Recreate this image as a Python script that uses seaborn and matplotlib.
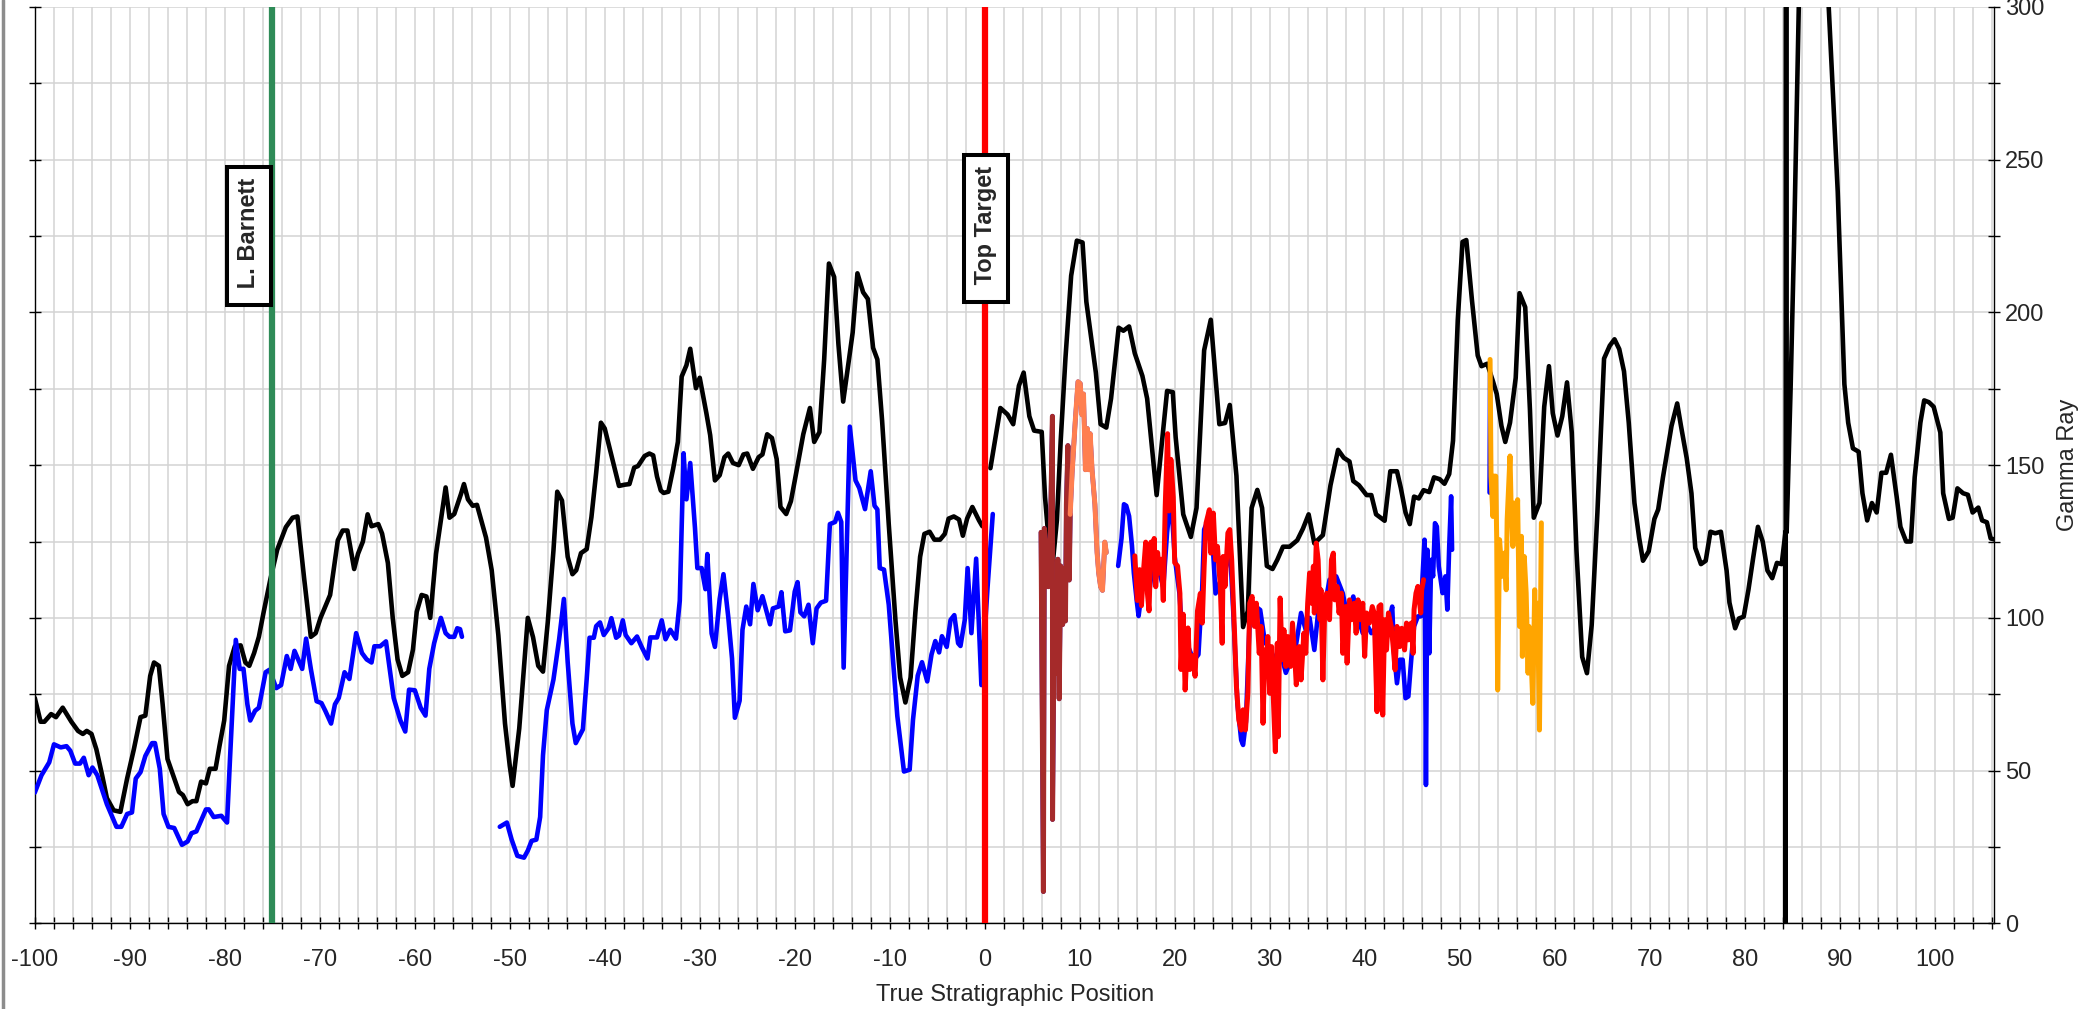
import numpy as np
import pandas as pd
import matplotlib
matplotlib.use("Agg")
import matplotlib.pyplot as plt
from matplotlib.ticker import MultipleLocator
import seaborn as sns

# offset well gamma ray (black), one run above and one below the target top
black_a_pos = [-100, -99.39, -98.99, -98.28, -97.77, -97.06, -96.15, -95.45, -94.94, -94.53,
               -94.03, -93.52, -92.91, -92.41, -91.7, -90.99, -90.28, -89.57, -88.87, -88.36,
               -87.85, -87.45, -86.94, -86.54, -86.03, -85.32, -84.82, -84.41, -83.91, -83.4,
               -82.99, -82.49, -81.98, -81.58, -80.97, -80.56, -80.06, -79.55, -78.94, -78.33,
               -77.83, -77.42, -76.91, -76.41, -75.9, -75.19, -74.48, -73.57, -72.86, -72.35,
               -71.64, -70.94, -70.43, -69.92, -68.91, -68.1, -67.59, -67.09, -66.38, -65.97,
               -65.46, -64.96, -64.55, -63.84, -63.44, -62.83, -62.32, -61.81, -61.31, -60.7,
               -60.19, -59.79, -59.28, -58.77, -58.37, -57.76, -56.75, -56.34, -55.84, -55.13,
               -54.82, -54.4, -53.9, -53.45, -52.5, -51.9, -51.2, -50.5, -50.0, -49.7,
               -49.0, -48.1, -47.55, -47.0, -46.5, -46.0, -45.4, -45.0, -44.5, -43.9,
               -43.4, -43.0, -42.5, -41.9, -41.4, -40.9, -40.4, -40.0, -39.3, -38.5,
               -37.9, -37.4, -36.9, -36.5, -35.8, -35.3, -34.9, -34.5, -34.1, -33.8,
               -33.3, -32.8, -32.3, -31.9, -31.4, -31.0, -30.4, -30.0, -29.3, -28.9,
               -28.4, -27.9, -27.4, -27.0, -26.5, -25.9, -25.4, -25.0, -24.4, -23.8,
               -23.4, -22.9, -22.4, -21.9, -21.5, -20.9, -20.4, -19.8, -19.1, -18.4,
               -17.95, -17.4, -16.9, -16.4, -15.85, -15.4, -14.9, -14.4, -13.9, -13.4,
               -12.8, -12.3, -11.75, -11.3, -10.8, -10.1, -9.4, -8.9, -8.35, -7.8,
               -7.3, -6.8, -6.35, -5.8, -5.3, -4.7, -4.2, -3.8, -3.25, -2.7,
               -2.3, -1.85, -1.3, -0.6, -0.25]
black_a_gr = [73.8, 66, 66, 68.5, 67.5, 70.6, 66, 63, 62, 63,
              62, 57, 48.5, 41, 37, 36.5, 47.4, 57, 67.5, 68,
              81, 85.4, 84.3, 71.7, 53.8, 47.4, 43, 42, 39, 40,
              40, 46.4, 45.8, 50.6, 50.6, 58, 66.4, 84.3, 90.7, 91,
              85.4, 84.3, 88.5, 93.8, 102, 112.8, 122.3, 129.7, 132.8, 133.2,
              112.8, 93.8, 95, 100, 107.5, 125.4, 128.6, 128.6, 116, 121,
              125, 133.9, 130, 130.7, 127.6, 118, 100, 86.4, 81, 82.2,
              89.6, 102, 107.5, 107, 100, 121, 142.7, 132.8, 134, 140.6,
              143.8, 138.8, 136.7, 137, 126.3, 115.6, 94.3, 65.4, 51.6, 45,
              63.8, 100, 93.7, 84.3, 82.4, 98.5, 122, 141.3, 138.4, 120,
              114.3, 115.6, 121.2, 122.5, 133, 147.6, 163.9, 162, 153.2, 143.2,
              143.6, 143.8, 149.2, 149.7, 153, 153.8, 153.2, 146.3, 141.7, 140.9,
              141.3, 148.8, 157.6, 179, 182.7, 188.1, 175.2, 178.6, 167, 159.8,
              145, 146.7, 152.6, 153.8, 150.7, 150, 153.5, 153.8, 148.8, 152.6,
              153.5, 160.1, 158.9, 152, 136.3, 134, 138.2, 148.2, 160.1, 168.7,
              157.6, 160.8, 184.6, 216, 211.6, 189.6, 170.8, 182.1, 193.4, 212.8,
              206.6, 204.4, 188.4, 184.6, 164.5, 130.6, 99.4, 80.5, 72.3, 80.5,
              101.8, 120, 127.5, 128.2, 125.6, 125.6, 127.5, 132.5, 133.2, 132.2,
              126.9, 132.5, 136.3, 131.9, 130]

black_b_pos = [0.6, 1.65, 2.4, 3.0, 3.6, 4.1, 4.7, 5.2, 6.0, 6.35,
               6.8, 7.2, 7.6, 8.0, 8.5, 9.1, 9.7, 10.3, 10.7, 11.7,
               12.2, 12.8, 13.3, 14.1, 14.6, 15.2, 15.8, 16.6, 17.1, 18.1,
               19.2, 19.8, 20.1, 20.9, 21.7, 22.3, 23.1, 23.8, 24.4, 24.7,
               25.3, 25.8, 26.5, 27.2, 27.7, 28.1, 28.7, 29.2, 29.7, 30.3,
               30.8, 31.4, 32.1, 32.9, 33.5, 34.1, 34.7, 35.6, 36.4, 37.2,
               37.8, 38.4, 38.8, 39.4, 40.2, 40.7, 41.2, 42.1, 42.7, 43.4,
               43.8, 44.3, 44.75, 45.2, 45.7, 46.2, 46.8, 47.3, 47.9, 48.4,
               48.9, 49.3, 49.8, 50.3, 50.7, 51.3, 51.9, 52.3, 52.9, 53.5,
               53.9, 54.4, 54.8, 55.3, 55.9, 56.3, 56.9, 57.4, 57.8, 58.4,
               58.9, 59.4, 59.8, 60.3, 60.8, 61.3, 61.8, 62.3, 62.9, 63.4,
               63.9, 64.5, 65.2, 65.8, 66.3, 66.8, 67.3, 67.8, 68.4, 68.9,
               69.3, 69.9, 70.5, 70.9, 71.4, 71.8, 72.3, 72.9, 73.3, 73.9,
               74.4, 74.8, 75.4, 75.9, 76.4, 76.9, 77.5, 78.1, 78.4, 79.0,
               79.4, 79.9, 80.4, 80.9, 81.4, 81.9, 82.4, 82.9, 83.4, 83.9,
               84.3, 84.32, 84.36, 84.42, 84.85, 85.2, 85.7, 86.5, 87.5, 88.3,
               88.85, 89.8, 90.5, 90.9, 91.4, 92.0, 92.4, 92.9, 93.4, 93.9,
               94.4, 94.9, 95.4, 96.0, 96.4, 97.0, 97.5, 97.9, 98.5, 98.9,
               99.4, 99.9, 100.6, 100.9, 101.5, 101.9, 102.4, 103.0, 103.5, 104.0,
               104.6, 105.0, 105.5, 105.9, 106.4, 106.8]
black_b_gr = [149, 168.7, 166.6, 163.4, 176, 180.3, 166, 161.3, 160.9, 139.5,
              123, 119, 132, 158, 185, 212, 223.5, 222.9, 203.5, 180.3,
              163.4, 162.3, 171.8, 195, 194, 195.4, 186.6, 179.2, 171.8, 140.2,
              174.3, 173.9, 159.2, 133.9, 126.5, 136, 187.6, 197.6, 175, 163.4,
              163.8, 169.7, 146.5, 97, 102.3, 136, 141.9, 136, 117, 116,
              119, 123.3, 123.3, 125.4, 129.2, 133.9, 124.4, 127.1, 143.4, 155,
              152.4, 151.2, 144.8, 143.4, 140.2, 140.2, 133.9, 131.8, 148, 148,
              142.6, 134.5, 130.7, 139.7, 139.1, 141.8, 141.2, 146, 145.4, 143.9,
              147.1, 158, 197.5, 223.1, 223.7, 203.8, 185.9, 182.4, 183.2, 177.5,
              173.3, 162.8, 157.6, 163.9, 178.6, 206.3, 201.7, 168, 132.8, 137.6,
              169.1, 182.4, 167, 159.7, 166, 177.1, 160.7, 121.8, 87.2, 81.9,
              97.7, 134.5, 184.9, 189.1, 191.2, 188, 180.7, 163.9, 137.6, 126.1,
              118.7, 121.8, 132.4, 135.5, 146, 153.4, 162.8, 170.2, 162.8, 152.3,
              140.8, 122.9, 117.6, 118.7, 128.2, 127.7, 128.2, 115.5, 105, 96.6,
              99.8, 100.4, 109.2, 119.7, 129.8, 125, 115.5, 113, 118, 117.6,
              128.2, 0, 1000, 128, 176.5, 222.7, 300, 345, 360, 335,
              300, 239.5, 176.5, 163.9, 155.5, 154.4, 140.8, 131.9, 137.6, 134.5,
              147.5, 147.5, 153.4, 139.7, 129.8, 125, 125, 146, 163.9, 171.2,
              170.6, 169.1, 160.7, 140.8, 132.4, 132.8, 142.4, 140.8, 140.3, 134.5,
              136.1, 131.9, 131.3, 126, 125.6, 122.9]

# lateral gamma ray (blue)
blue_a_pos = [-100, -99.29, -98.48, -97.98, -97.27, -96.66, -96.26, -95.75, -95.24, -94.84,
              -94.33, -93.93, -93.42, -92.41, -91.4, -90.89, -90.28, -89.77, -89.37, -88.87,
              -88.36, -87.65, -87.35, -86.84, -86.44, -85.93, -85.32, -84.51, -83.91, -83.5,
              -82.99, -81.98, -81.68, -81.17, -80.36, -79.76, -79.45, -78.84, -78.43, -78.03,
              -77.62, -77.32, -76.81, -76.41, -75.7, -75.3, -74.58, -74.07, -73.47, -73.06,
              -72.66, -71.85, -71.44, -70.94, -70.33, -69.82, -69.42, -68.81, -68.4, -68.0,
              -67.39, -66.88, -66.17, -65.56, -65.06, -64.55, -64.25, -63.64, -63.03, -62.73,
              -62.22, -61.51, -61.0, -60.6, -59.99, -59.38, -58.87, -58.47, -57.96, -57.25,
              -56.75, -56.34, -55.84, -55.53, -55.23, -55.03]
blue_a_gr = [42.8, 48.5, 52.7, 58.6, 57.6, 58, 56.5, 52.3, 52.3, 54.2,
             48.5, 51, 48.5, 39, 31.6, 31.6, 35.8, 36.3, 47.4, 49.5,
             54.8, 59, 59, 50.6, 35.8, 31.6, 31.2, 25.7, 26.8, 29.5,
             30.1, 37.3, 37.3, 34.8, 35.2, 33, 53.8, 92.8, 83.3, 83.3,
             71.7, 66.4, 69.6, 70.6, 82.2, 83, 77, 78, 87.5, 83.3,
             89.2, 83.3, 93.2, 83.3, 72.7, 72.1, 69.6, 65.4, 71.7, 73.8,
             82.2, 80, 95, 88.5, 86.4, 85.4, 90.7, 90.7, 92.3, 85.4,
             73.8, 66.4, 62.8, 76.5, 76.3, 70.6, 68, 83.3, 91.7, 100,
             95, 93.8, 93.8, 96.6, 96.3, 93.8]

blue_b_pos = [-51.05, -50.3, -49.8, -49.2, -48.5, -48.1, -47.7, -47.2, -46.8, -46.5,
              -46.1, -45.4, -44.8, -44.3, -43.9, -43.4, -43.05, -42.3, -41.9, -41.6,
              -41.15, -40.9, -40.5, -40.1, -39.6, -39.3, -38.8, -38.5, -38.1, -37.8,
              -37.2, -36.6, -36.1, -35.5, -35.2, -34.5, -34.0, -33.6, -33.1, -32.5,
              -32.1, -31.7, -31.4, -31.0, -30.5, -30.25, -29.8, -29.4, -29.2, -28.75,
              -28.4, -27.9, -27.5, -27.0, -26.6, -26.3, -25.8, -25.5, -25.1, -24.7,
              -24.35, -23.9, -23.4, -22.6, -22.3, -21.7, -21.4, -21.0, -20.5, -20.0,
              -19.7, -19.4, -19.0, -18.55, -18.1, -17.7, -17.25, -16.7, -16.3, -15.75,
              -15.45, -15.1, -14.85, -14.2, -13.6, -13.2, -12.6, -12.0, -11.6, -11.3,
              -11.05, -10.6, -10.1, -9.2, -8.5, -7.9, -7.55, -7.05, -6.6, -6.05,
              -5.6, -5.2, -4.8, -4.5, -4.0, -3.6, -3.2, -2.8, -2.55, -2.1,
              -1.8, -1.4, -0.9, -0.35, 0.3, 0.85]
blue_b_gr = [31.6, 33, 27.4, 22.1, 21.5, 23.8, 27, 27.4, 34.8, 55,
             69.8, 79.8, 93, 106.2, 85.5, 65.4, 59, 63.5, 80, 93.5,
             93.5, 97.3, 98.5, 94.4, 96.6, 99.9, 93.5, 94.2, 99.2, 94.4,
             91.7, 93.9, 90.4, 86.7, 93.6, 93.6, 99.2, 93, 96.1, 93.2,
             105.6, 153.9, 138.8, 150.7, 129.4, 116.3, 116.3, 109.4, 120.9, 94.9,
             90.5, 106.2, 114.3, 100.4, 86.7, 67.3, 72.9, 96.1, 103.7, 97.9,
             111.1, 102.5, 107.1, 97.9, 103.1, 103.7, 108.4, 95.6, 95.9, 108.6,
             111.7, 101.8, 100.5, 104.3, 91.7, 103.1, 105, 105.6, 130.7, 131.4,
             134.4, 131.4, 83.7, 162.6, 145, 142.5, 135.6, 148, 136.7, 135.5,
             116.3, 115.8, 104.3, 67.9, 49.7, 50.3, 66.6, 81.1, 85.5, 79.2,
             88, 92.4, 88.7, 94, 90.5, 99.3, 100.9, 91.7, 90.8, 99.3,
             116.3, 95, 119.4, 78, 110, 134]

blue_c_pos = [14.05, 14.4, 14.66, 14.9, 15.2, 15.5, 15.7, 16.0, 16.2, 16.5,
              16.9, 17.3, 17.8, 18.3, 18.8, 19.2, 19.6, 20.0, 20.5, 21.0,
              21.5, 22.0, 22.5, 22.9, 23.1, 23.5, 24.0, 24.3, 24.8, 25.3,
              25.8, 26.2, 26.6, 27.0, 27.2, 27.5, 27.9, 28.4, 29.0, 29.5,
              30.0, 30.6, 31.2, 31.7, 32.2, 32.8, 33.3, 33.8, 34.2, 34.7,
              35.3, 35.8, 36.3, 37.0, 37.7, 38.2, 38.8, 39.3, 39.8, 40.2,
              40.7, 41.2, 41.7, 42.1, 42.5, 42.9, 43.1, 43.4, 43.7, 44.0,
              44.3, 44.6, 44.9, 45.2, 45.6, 45.9, 46.0, 46.3, 46.45, 46.6,
              46.8, 47.0, 47.2, 47.4, 47.6, 47.8, 48.0, 48.2, 48.5, 48.7,
              48.9, 49.1, 49.2]
blue_c_gr = [117, 126, 137.2, 136.7, 133.3, 123.7, 114.7, 105.7, 100.6, 108,
             118, 108, 120, 116, 110, 128, 140, 120, 108, 85,
             90, 86, 88, 110, 128.9, 132, 124, 108, 112, 115,
             124, 100, 72, 60, 58.4, 66, 100, 104, 102.6, 92,
             90, 86, 88, 82, 86, 91.7, 101.6, 96, 100, 89.5,
             108, 104, 112.5, 113.6, 108, 100, 107, 100, 95, 98,
             95, 97, 96, 92, 98.3, 103.7, 88.4, 78.6, 86.3, 86.3,
             73.7, 74.3, 86.3, 97.2, 100.5, 100.5, 108.1, 125.6, 45.3, 122.3,
             88.4, 119, 113.6, 131, 129.9, 116.9, 112.5, 108.1, 113.6, 102.7,
             123.4, 139.8, 122.3]

blue_d_pos = [53.15, 53.2]
blue_d_gr = [141, 180]

# highlighted zones drawn over the lateral log
brown_pos = [5.93, 6.18, 6.28, 6.5, 6.7, 6.9, 7.13, 7.14, 7.34, 7.5,
             7.7, 7.84, 8.0, 8.2, 8.4, 8.5, 8.6, 8.76, 8.9, 9.0]
brown_gr = [128, 10.4, 129.3, 121.4, 110.2, 124.8, 166, 34, 111.3, 82,
            119.2, 73.5, 117, 97.8, 111.3, 99, 137.2, 156.4, 112.4, 133.9]

coral_pos = [9.0, 9.2, 9.53, 9.82, 10.06, 10.24, 10.4, 10.6, 10.8, 10.95,
             11.1, 11.3, 11.6, 11.83, 12.0, 12.2, 12.4, 12.64, 12.8]
coral_gr = [133.9, 147.4, 164.3, 177.3, 176.7, 166.5, 173.3, 148.5, 162, 148.5,
            160.3, 148.5, 137.2, 121.4, 114.7, 110.2, 109, 124.8, 121.4]

red_pos = [15.8, 16.07, 16.3, 16.5, 16.7, 16.95, 17.13, 17.3, 17.5, 17.7,
           17.84, 18.0, 18.2, 18.4, 18.6, 18.8, 19.0, 19.25, 19.4, 19.6,
           19.85, 20.0, 20.3, 20.55, 20.66, 20.9, 21.1, 21.4, 21.6, 21.9,
           22.15, 22.4, 22.7, 22.9, 23.1, 23.3, 23.65, 23.8, 24.07, 24.3,
           24.5, 24.8, 25.0, 25.1, 25.3, 25.6, 25.8, 26.0, 26.3, 26.5,
           26.75, 27.0, 27.2, 27.45, 27.7, 27.9, 28.15, 28.4, 28.6, 28.9,
           29.1, 29.3, 29.5, 29.6, 29.8, 30.0, 30.2, 30.3, 30.6, 30.8,
           30.9, 31.1, 31.3, 31.5, 31.7, 31.9, 32.2, 32.4, 32.6, 32.8,
           33.1, 33.3, 33.6, 33.8, 34.0, 34.2, 34.4, 34.6, 34.7, 34.9,
           35.1, 35.3, 35.4, 35.6, 35.8, 36.0, 36.3, 36.5, 36.7, 36.85,
           37.1, 37.3, 37.55, 37.7, 38.0, 38.15, 38.4, 38.6, 38.9, 39.1,
           39.3, 39.6, 39.8, 40.0, 40.2, 40.5, 40.8, 41.0, 41.3, 41.5,
           41.7, 41.9, 42.1, 42.3, 42.5, 42.8, 43.0, 43.2, 43.4, 43.7,
           43.9, 44.2, 44.4, 44.6, 44.9, 45.1, 45.2, 45.4, 45.6, 45.9,
           46.0, 46.2]
red_gr = [120.3, 105.7, 115.8, 104, 114.7, 124.8, 108, 102.3, 124.8, 117,
          126, 110.2, 121.4, 114.7, 119.2, 105.7, 136.1, 160.3, 135, 151.9,
          139.5, 118.1, 117, 108, 83.1, 101.2, 76.4, 96.7, 83.1, 87.6,
          80.9, 102.3, 108, 98.3, 116.9, 131, 135.4, 121.2, 134.3, 119,
          123.4, 110.3, 91.7, 120.1, 110.3, 127.8, 128.9, 119, 95, 77.5,
          66.6, 63.3, 69.9, 63.3, 75.3, 104.8, 107, 97.2, 104.8, 88.4,
          97.2, 65.5, 89.5, 81.9, 93.9, 75.3, 90.6, 80.8, 56.2, 91.7,
          61.1, 106.5, 86.3, 96.1, 84.1, 93.9, 84.1, 98.3, 89.5, 78.1,
          90.6, 79.7, 95, 88.4, 104.8, 114.7, 104.8, 116.9, 101.6, 124.5,
          119, 99.4, 109.2, 79.7, 103.7, 108.1, 99.4, 119, 121.2, 105.9,
          110.3, 101.6, 108.1, 88.4, 103.7, 85.2, 105.9, 99.4, 104.8, 95,
          105.9, 99.4, 104.8, 87.4, 101.6, 98.3, 103.7, 101.6, 69.3, 103.7,
          104.3, 68.2, 99.4, 89.5, 101.6, 97.2, 90.6, 83, 97.2, 90.6,
          96.6, 89.5, 98.3, 92.8, 98.3, 88.4, 102.7, 108.1, 110.3, 101.6,
          109.2, 112.5]

orange_pos = [53.2, 53.3, 53.5, 53.6, 53.8, 53.9, 54.0, 54.2, 54.35, 54.5,
              54.7, 54.9, 55.0, 55.3, 55.4, 55.6, 55.75, 55.97, 56.1, 56.3,
              56.5, 56.6, 56.8, 57.0, 57.2, 57.3, 57.5, 57.7, 57.9, 58.0,
              58.2, 58.4, 58.6]
orange_gr = [184.6, 146.4, 133.2, 146.4, 146.4, 125.6, 76.4, 125.6, 119, 113.6,
             121.2, 109.2, 132.2, 153, 138.7, 123.4, 137.6, 125.6, 138.7, 97.2,
             126.7, 87.4, 120.1, 108.1, 81.9, 97.2, 88.4, 72, 109.2, 88.4,
             104.8, 63.3, 131.1]

tops = ["L. Barnett", "Top Target"]
top_pos = [-75.0, 0.0]
top_colors = ["#2e8b57", "#ff0000"]


def runs(*pairs):
    frames = []
    for i, (p, g) in enumerate(pairs):
        frames.append(pd.DataFrame({"pos": p, "gr": g, "run": i}))
    return pd.concat(frames, ignore_index=True)


def draw(df, color, lw, z):
    sns.lineplot(data=df, x="pos", y="gr", units="run", estimator=None, sort=False,
                 color=color, lw=lw, ax=ax, zorder=z, legend=False)


sns.set_theme(style="white")
plt.rcParams["font.family"] = ["Liberation Sans", "DejaVu Sans"]
plt.rcParams["axes.unicode_minus"] = False

fig = plt.figure(figsize=(20.83, 10.09), dpi=100)
ax = fig.add_axes([0.0167, 0.0849, 0.9408, 0.9082])

draw(runs((black_a_pos, black_a_gr), (black_b_pos, black_b_gr)), "black", 3.3, 3)
draw(runs((blue_a_pos, blue_a_gr), (blue_b_pos, blue_b_gr), (blue_c_pos, blue_c_gr),
          (blue_d_pos, blue_d_gr), (brown_pos, brown_gr), (coral_pos, coral_gr)),
     "#0000ff", 3.3, 4)
draw(runs((brown_pos, brown_gr)), "#a52a2a", 3.6, 5)
draw(runs((coral_pos, coral_gr)), "#ff7f50", 3.6, 5)
draw(runs((red_pos, red_gr)), "#ff0000", 3.6, 5)
draw(runs((orange_pos, orange_gr)), "#ffa500", 3.6, 5)

for p, c in zip(top_pos, top_colors):
    ax.axvline(p, color=c, lw=4.5, zorder=6)
box = dict(boxstyle="square,pad=0.45", fc="white", ec="black", lw=2.9)
ax.text(-77.45, 225, " " + tops[0], rotation=90, ha="center", va="center", fontsize=17,
        fontweight="bold", bbox=box, zorder=8)
ax.text(0.1, 227.5, " " + tops[1], rotation=90, ha="center", va="center", fontsize=17,
        fontweight="bold", bbox=box, zorder=8)

ax.set_xlim(-100, 106.3)
ax.set_ylim(0, 300)
ax.xaxis.set_major_locator(MultipleLocator(10))
ax.xaxis.set_minor_locator(MultipleLocator(2))
ax.yaxis.set_major_locator(MultipleLocator(50))
ax.yaxis.set_minor_locator(MultipleLocator(25))
ax.grid(True, which="both", color="#d3d3d3", lw=1.1)
ax.set_axisbelow(True)

for s in ["left", "right", "bottom"]:
    ax.spines[s].set_color("black")
    ax.spines[s].set_linewidth(1.0)
ax.spines["top"].set_visible(False)

ax.tick_params(axis="x", which="both", direction="inout", length=9, width=1,
               color="black", bottom=True, labelsize=17, pad=14)
ax.tick_params(axis="y", which="both", direction="inout", length=9, width=1,
               color="black", left=True, right=True, labelleft=False, labelright=True,
               labelsize=17, pad=3)
ax.yaxis.set_label_position("right")
ax.set_xlabel("True Stratigraphic Position", fontsize=17, labelpad=9)
ax.set_ylabel("Gamma Ray", fontsize=17, labelpad=9)

fig.add_artist(plt.Line2D([0.0015, 0.0015], [0, 1], transform=fig.transFigure,
                          color="#8c8c8c", lw=2.5))

fig.savefig("out.png", dpi=100)
